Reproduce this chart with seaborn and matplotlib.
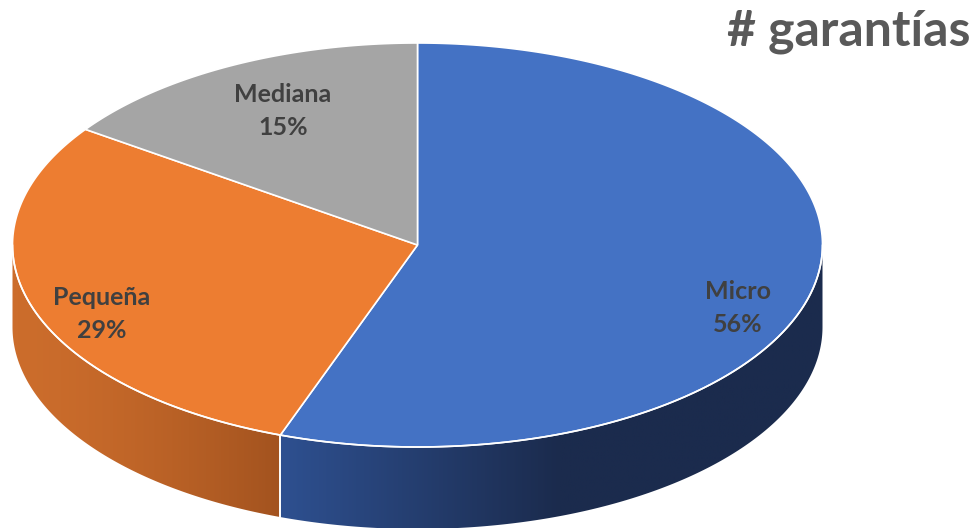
import numpy as np
import seaborn as sns
import matplotlib.pyplot as plt
from matplotlib.patches import Polygon

# data
categories = ['Micro', 'Pequeña', 'Mediana']
shares = [55.5, 29.2, 15.3]
title = '# garantías'

top_colors = ['#4472C4', '#ED7D31', '#A5A5A5']
side_colors = [('#2e5090', '#1b2b4d'), ('#cc6d2c', '#a3531f'), ('#7a7a7a', '#5c5c5c')]
label_pos = [(738, 308), (102, 314), (283, 111)]

sns.set_theme(style='white')
plt.rcParams['font.family'] = ['Lato', 'DejaVu Sans']

W, H = 979, 528
fig = plt.figure(figsize=(W / 100, H / 100), dpi=100)
ax = fig.add_axes([0, 0, 1, 1])
ax.set_xlim(0, W)
ax.set_ylim(H, 0)
ax.axis('off')

cx, cy, a, b, depth = 417.5, 245, 405, 202, 82


def pt(theta):
    t = np.radians(theta)
    return cx + a * np.cos(t), cy - b * np.sin(t)


# slice angles, clockwise from 12 o'clock
fracs = np.array(shares) / sum(shares)
ends = 90 - np.cumsum(fracs) * 360
starts = np.concatenate([[90], ends[:-1]])

# side walls (only the front half, angles in [180, 360])
for i, (s, e) in enumerate(zip(starts, ends)):
    lo, hi = e % 360, s % 360
    if hi <= lo:
        hi += 360
    seg_lo, seg_hi = max(lo, 180), min(hi, 360)
    if seg_hi <= seg_lo:
        continue
    th = np.linspace(seg_lo, seg_hi, 200)
    xs, ys = pt(th)
    verts = np.vstack([np.column_stack([xs, ys]), np.column_stack([xs[::-1], ys[::-1] + depth])])
    poly = Polygon(verts, closed=True, facecolor='none', edgecolor='none')
    ax.add_patch(poly)
    cmap = sns.blend_palette(list(side_colors[i]), n_colors=256, as_cmap=True)
    x0, x1 = xs.min(), xs.max()
    span = min(x1 - x0, 280) if i == 0 else x1 - x0
    grad = np.clip((np.linspace(x0, x1, 400) - x0) / span, 0, 1)
    if i == 1:
        grad = grad ** 1.5
    img = ax.imshow(grad[None, :], cmap=cmap, vmin=0, vmax=1, aspect='auto',
                    extent=(x0, x1, ys.max() + depth, ys.min()), zorder=1)
    img.set_clip_path(poly)
    ax.plot(xs, ys, color='white', lw=1.2, zorder=3)
    # seam lines at slice boundaries
    for ang in (seg_lo, seg_hi):
        if 180 < ang < 360:
            px, py = pt(ang)
            ax.plot([px, px], [py, py + depth], color='white', lw=1.2, zorder=3)

# top faces
for i, (s, e) in enumerate(zip(starts, ends)):
    th = np.linspace(s, e, 300)
    xs, ys = pt(th)
    verts = np.vstack([[cx, cy], np.column_stack([xs, ys])])
    ax.add_patch(Polygon(verts, closed=True, facecolor=top_colors[i],
                         edgecolor='white', lw=1.2, zorder=2))

for i, cat in enumerate(categories):
    x, y = label_pos[i]
    ax.text(x, y, f'{cat}\n{round(shares[i])}%', ha='center', va='center',
            fontsize=18, fontweight='bold', color='#404040', linespacing=1.5, zorder=4)

ax.text(971, 32, title, ha='right', va='center', fontsize=36,
        fontweight='bold', color='#595959')

fig.savefig('out.png', dpi=100)
